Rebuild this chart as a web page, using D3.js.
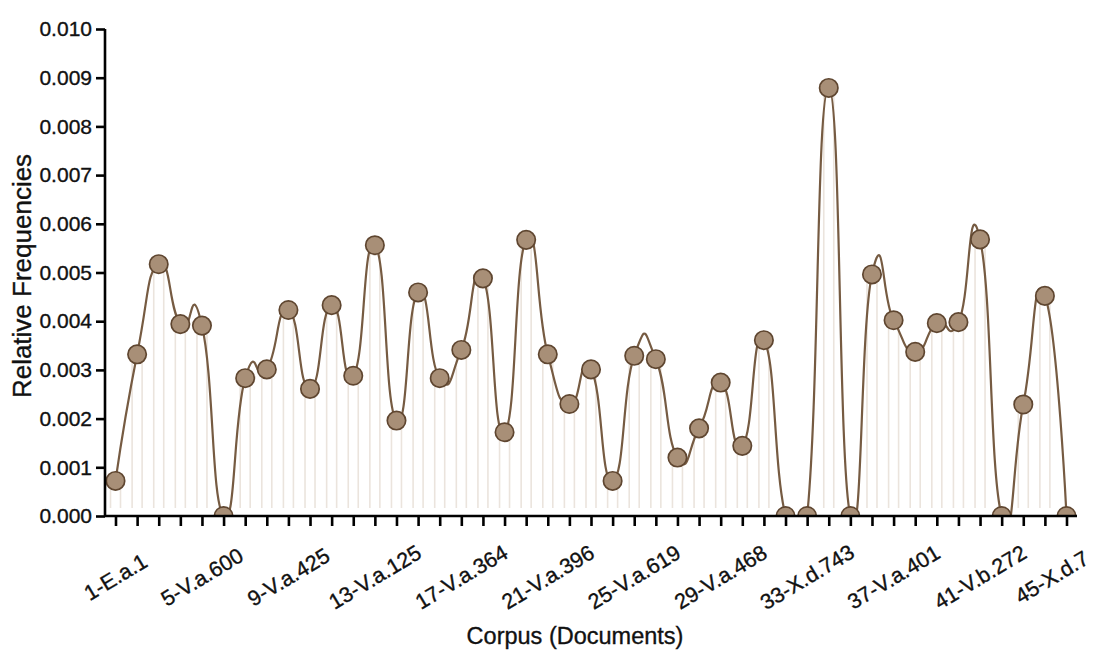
<!DOCTYPE html>
<html>
<head>
<meta charset="utf-8">
<script src="https://cdn.jsdelivr.net/npm/d3@7"></script>
<style>
  html, body { margin: 0; padding: 0; background: #fff; }
  svg { display: block; }
  text { font-family: "Liberation Sans", Arial, Helvetica, sans-serif; fill: #111; stroke: #111; stroke-width: 0.35px; }
</style>
</head>
<body>
<svg id="chart" width="1094" height="656"></svg>
<script>
// Document numbers (1..45) in corpus order
const docIds = [1,2,3,4,5,6,7,8,9,10,11,12,13,14,15,16,17,18,19,20,21,22,23,24,25,26,27,28,29,30,31,32,33,34,35,36,37,38,39,40,41,42,43,44,45];
// Relative frequencies
const freqs = [0.00072,0.00332,0.00517,0.00394,0.00391,0.0,0.00283,0.00301,0.00423,0.00261,
               0.00433,0.00288,0.00556,0.00196,0.00459,0.00283,0.00341,0.00488,0.00172,0.00567,
               0.00332,0.00230,0.00301,0.00072,0.00329,0.00322,0.00120,0.00180,0.00274,0.00144,
               0.00361,0.0,0.0,0.00879,0.0,0.00496,0.00402,0.00337,0.00396,0.00398,
               0.00568,0.0,0.00229,0.00452,0.0];
// Labelled ticks
const tickDocs = [1,5,9,13,17,21,25,29,33,37,41,45];
const tickLabels = ["1-E.a.1","5-V.a.600","9-V.a.425","13-V.a.125","17-V.a.364","21-V.a.396",
                    "25-V.a.619","29-V.a.468","33-X.d.743","37-V.a.401","41-V.b.272","45-X.d.7"];
const yTicks = [0,0.001,0.002,0.003,0.004,0.005,0.006,0.007,0.008,0.009,0.010];

const data = docIds.map((d, i) => ({ id: d, v: freqs[i] }));

const W = 1094;
const svg = d3.select("#chart");
const axisX0 = 105, axisX1 = 1077;
const x = d3.scalePoint().domain(docIds).range([115.5, 1066.5]);
const y = d3.scaleLinear().domain([0, 0.010]).range([516, 29]);

const lineColor = "#765b42";
const ptFill = "#a88f77";
const ptStroke = "#5f4630";

svg.append("defs").append("clipPath").attr("id", "plotclip")
  .append("rect").attr("x", axisX0).attr("y", 0).attr("width", W - axisX0).attr("height", y(0));

const plot = svg.append("g").attr("clip-path", "url(#plotclip)");

// faint drop lines (two thin verticals per point)
const dropBottom = y(0) - 8;
const drops = data.filter(d => y(d.v) < dropBottom);
const dg = plot.append("g").attr("stroke", "#ebe4dd").attr("stroke-width", 1.6);
[-5, 5].forEach(off => {
  dg.append("g").selectAll("line").data(drops).join("line")
    .attr("x1", d => x(d.id) + off).attr("x2", d => x(d.id) + off)
    .attr("y1", d => y(d.v)).attr("y2", dropBottom);
});

// smooth line
const line = d3.line().x(d => x(d.id)).y(d => y(d.v)).curve(d3.curveCardinal.tension(-0.7));
plot.append("path").datum(data)
  .attr("d", line)
  .attr("fill", "none")
  .attr("stroke", lineColor)
  .attr("stroke-width", 2.2);

// points
plot.append("g").selectAll("circle").data(data).join("circle")
  .attr("cx", d => x(d.id))
  .attr("cy", d => y(d.v))
  .attr("r", 9.2)
  .attr("fill", ptFill)
  .attr("stroke", ptStroke)
  .attr("stroke-width", 1.7);

// Y axis
const yAxis = d3.axisLeft(y).tickValues(yTicks).tickFormat(d3.format(".3f")).tickSize(9).tickPadding(4);
const gy = svg.append("g").attr("transform", `translate(${axisX0},0)`).call(yAxis);
gy.select(".domain").attr("stroke", "#000").attr("stroke-width", 2.6).attr("d", `M0,${y(0)}V${y(0.010)}`);
gy.selectAll(".tick line").attr("stroke", "#000").attr("stroke-width", 2.6);
gy.selectAll(".tick text").attr("font-size", 21).attr("fill", "#111")
  .style("font-family", '"Liberation Sans", Arial, sans-serif');

// X axis
const xAxis = d3.axisBottom(x).tickSize(10).tickFormat("");
const gx = svg.append("g").attr("transform", `translate(0,${y(0)})`).call(xAxis);
gx.select(".domain").attr("stroke", "#000").attr("stroke-width", 2.6).attr("d", `M${axisX0},0H${axisX1}`);
gx.selectAll(".tick line").attr("stroke", "#000").attr("stroke-width", 2.6);

// rotated tick labels (centered on tick), kept inside the picture
const labelY = 577, labelAngle = -31;
const labels = svg.append("g").selectAll("text").data(tickDocs).join("text")
  .attr("text-anchor", "middle")
  .attr("dy", "0.35em")
  .attr("font-size", 21.5)
  .text((d, i) => tickLabels[i])
  .attr("transform", d => `translate(${x(d)},${labelY}) rotate(${labelAngle})`);
labels.each(function(d) {
  const bb = this.getBoundingClientRect();
  const over = bb.right - (W - 1);
  if (over > 0) d3.select(this).attr("transform", `translate(${x(d) - over},${labelY}) rotate(${labelAngle})`);
});

// Axis titles
svg.append("text")
  .attr("x", 575).attr("y", 644)
  .attr("text-anchor", "middle")
  .attr("font-size", 23.5)
  .text("Corpus (Documents)");

svg.append("text")
  .attr("transform", "translate(31,276) rotate(-90)")
  .attr("text-anchor", "middle")
  .attr("font-size", 26)
  .text("Relative Frequencies");
</script>
</body>
</html>
